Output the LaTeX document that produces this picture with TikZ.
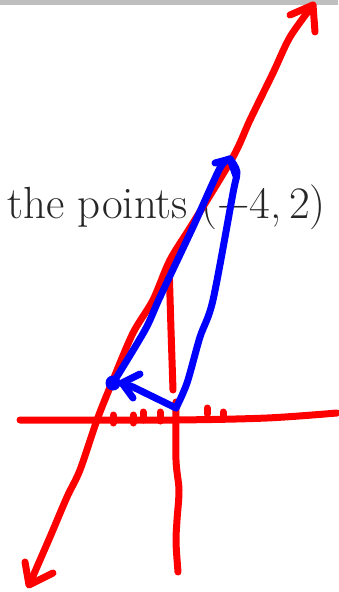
\documentclass[tikz,border=0pt]{standalone}
\usepackage{fontspec}
\usepackage{tikz}
\usetikzlibrary{positioning}

\tikzset{
  redpen/.style={draw=red, line width=7pt, line cap=round, line join=round},
  bluepen/.style={draw=blue, line width=7pt, line cap=round, line join=round},
}

\begin{document}
\begin{tikzpicture}[x=1pt, y=-1pt]
    \useasboundingbox (0,0) rectangle (338,592);
    \fill[black!25] (0,0) rectangle (338,5);
    % text
    \node[anchor=base west, inner sep=0pt, text=black!85, font=\fontsize{45}{53}\selectfont] (txt) at (7,218) {the points (−4,\,2)};
    % points of the triangle
    \coordinate (apex) at (230,159);
    \coordinate (leftpt) at (113,383);
    \coordinate (corner) at (176,408);
    % red line with two arrow ends
    \draw[redpen] plot[smooth, tension=0.5] coordinates {(313,5) (290,37) (273,73) (250,120) (233,157) (193,223) (170,260) (153,300) (133,333) (113,380) (97,420) (80,470) (67,497) (50,537) (30,583)};
    \draw[redpen] (290,15) -- (313,5) -- (315,32);
    \draw[redpen] (25,562) -- (29,585) -- (53,573);
    % axes
    \draw[redpen] plot[smooth, tension=0.5] coordinates {(20,420) (173,420) (267,418) (337,413)};
    \draw[redpen] (169,264) -- (171,330) -- (173,390);
    \draw[redpen] plot[smooth, tension=0.5] coordinates {(176,402) (176,460) (179,490) (177,520) (176,542) (178,572)};
    % ticks
    \foreach \tx/\ta/\tb in {113/415/423, 133/415/423, 143/412/420, 160/412/421, 207/408/414, 223/412/417}
      \draw[redpen] (\tx,\ta) -- (\tx,\tb);
    % blue triangle
    \draw[bluepen] plot[smooth, tension=0.5] coordinates {(apex) (220,168) (193,227) (160,297) (145,330) (leftpt)};
    \draw[bluepen] plot[smooth, tension=0.5] coordinates {(corner) (187,383) (200,337) (213,300) (233,193) (237,172) (apex)};
    \draw[bluepen] (215,163) -- (apex) -- (236,176);
    \draw[bluepen] (corner) -- (133,387) -- (122,383);
    \draw[bluepen] (140,374) -- (122,383) -- (133,398);
    \fill[blue] (leftpt) circle (7.5);
\end{tikzpicture}
\end{document}
